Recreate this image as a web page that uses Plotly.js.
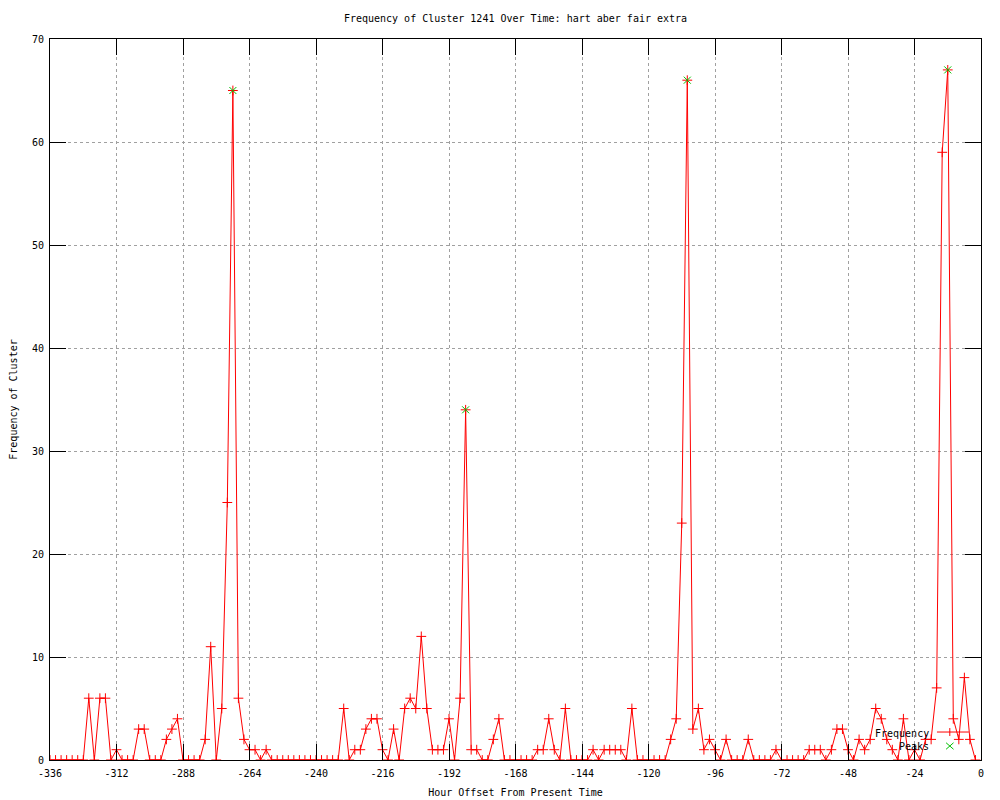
<!DOCTYPE html>
<html>
<head>
<meta charset="utf-8">
<script src="https://cdn.plot.ly/plotly-3.0.1.min.js"></script>
<style>html,body{margin:0;padding:0;background:#fff;}#chart{width:1000px;height:800px;}</style>
</head>
<body>
<div id="chart"></div>
<script>
const hours = [
-336,-334,-332,-330,-328,-326,-324,-322,-320,-318,-316,-314,-312,-310,-308,-306,-304,-302,-300,-298,
-296,-294,-292,-290,-288,-286,-284,-282,-280,-278,-276,-274,-272,-270,-268,-266,-264,-262,-260,-258,
-256,-254,-252,-250,-248,-246,-244,-242,-240,-238,-236,-234,-232,-230,-228,-226,-224,-222,-220,-218,
-216,-214,-212,-210,-208,-206,-204,-202,-200,-198,-196,-194,-192,-190,-188,-186,-184,-182,-180,-178,
-176,-174,-172,-170,-168,-166,-164,-162,-160,-158,-156,-154,-152,-150,-148,-146,-144,-142,-140,-138,
-136,-134,-132,-130,-128,-126,-124,-122,-120,-118,-116,-114,-112,-110,-108,-106,-104,-102,-100,-98,
-96,-94,-92,-90,-88,-86,-84,-82,-80,-78,-76,-74,-72,-70,-68,-66,-64,-62,-60,-58,
-56,-54,-52,-50,-48,-46,-44,-42,-40,-38,-36,-34,-32,-30,-28,-26,-24,-22,-20,-18,
-16,-14,-12,-10,-8,-6,-4,-2
];
const frequency = [
0,0,0,0,0,0,0,6,0,6,6,0,1,0,0,0,3,3,0,0,
0,2,3,4,0,0,0,0,2,11,0,5,25,65,6,2,1,1,0,1,
0,0,0,0,0,0,0,0,0,0,0,0,0,5,0,1,1,3,4,4,
1,0,3,0,5,6,5,12,5,1,1,1,4,0,6,34,1,1,0,0,
2,4,0,0,0,0,0,0,1,1,4,1,0,5,0,0,0,0,1,0,
1,1,1,1,0,5,0,0,0,0,0,0,2,4,23,66,3,5,1,2,
1,0,2,0,0,0,2,0,0,0,0,1,0,0,0,0,0,1,1,1,
0,1,3,3,1,0,2,1,2,5,4,2,1,0,4,0,1,0,2,2,
7,59,67,4,2,8,2,0
];
const peakHours = [-270, -186, -106, -12];
const peakValues = [65, 34, 66, 67];
const xTicks = [-336,-312,-288,-264,-240,-216,-192,-168,-144,-120,-96,-72,-48,-24,0];
const yTicks = [0,10,20,30,40,50,60,70];
const legendLabels = ["Frequency", "Peaks"];

const FONT = "DejaVu Sans Mono, monospace";
const RED = "#ff0000";
const GREEN = "#00c000";

const traces = [
  {
    x: hours, y: frequency, type: "scatter", mode: "lines+markers", name: legendLabels[0],
    line: {color: RED, width: 1},
    marker: {symbol: "cross-thin-open", size: 7, color: RED, line: {color: RED, width: 1}},
    cliponaxis: true, showlegend: false
  },
  {
    x: peakHours, y: peakValues, type: "scatter", mode: "markers", name: legendLabels[1],
    marker: {symbol: "x-thin-open", size: 7, color: GREEN, line: {color: GREEN, width: 1}},
    showlegend: false
  }
];

const axisCommon = {
  showline: true, linecolor: "#000", linewidth: 1, mirror: "ticks",
  ticks: "inside", ticklen: 16, tickcolor: "#000", tickwidth: 1,
  showgrid: true, gridcolor: "#a0a0a0", griddash: "dot", gridwidth: 1,
  zeroline: false, tickfont: {family: FONT, size: 10, color: "#000"}
};

const layout = {
  width: 1000, height: 800,
  paper_bgcolor: "#fff", plot_bgcolor: "#fff",
  margin: {l: 50, r: 19, t: 39, b: 40, pad: 0},
  title: {text: "Frequency of Cluster 1241 Over Time: hart aber fair extra",
          font: {family: FONT, size: 10, color: "#000"},
          x: 0.5, xref: "paper", xanchor: "center", y: 1 - 18/800, yref: "container", yanchor: "middle"},
  xaxis: Object.assign({}, axisCommon, {
    range: [-336, 0], tickmode: "array", tickvals: xTicks, ticktext: xTicks.map(String),
    ticklabelstandoff: 4,
    title: {text: "Hour Offset From Present Time", font: {family: FONT, size: 10, color: "#000"}, standoff: 10}
  }),
  yaxis: Object.assign({}, axisCommon, {
    range: [0, 70], tickmode: "array", tickvals: yTicks, ticktext: yTicks.map(String),
    ticklabelstandoff: 3,
    title: {text: "Frequency of Cluster", font: {family: FONT, size: 10, color: "#000"}, standoff: 12}
  }),
  showlegend: false,
  annotations: [
    {xref: "paper", yref: "paper", x: 0.946, y: 0.0374, xanchor: "right", yanchor: "middle",
     text: legendLabels[0], showarrow: false, font: {family: FONT, size: 10, color: "#000"}},
    {xref: "paper", yref: "paper", x: 0.946, y: 0.0194, xanchor: "right", yanchor: "middle",
     text: legendLabels[1], showarrow: false, font: {family: FONT, size: 10, color: "#000"}}
  ],
  shapes: [
    {type: "line", xref: "paper", yref: "paper", x0: 0.9527, x1: 0.987, y0: 0.0388, y1: 0.0388,
     line: {color: RED, width: 1}},
    {type: "line", xref: "paper", yref: "paper", x0: 0.9665, x1: 0.9665, y0: 0.0388 - 0.0055, y1: 0.0388 + 0.0055,
     line: {color: RED, width: 1}},
    {type: "line", xref: "paper", yref: "paper", x0: 0.9665 - 0.004, x1: 0.9665 + 0.004, y0: 0.0194 - 0.0045, y1: 0.0194 + 0.0045,
     line: {color: GREEN, width: 1}},
    {type: "line", xref: "paper", yref: "paper", x0: 0.9665 - 0.004, x1: 0.9665 + 0.004, y0: 0.0194 + 0.0045, y1: 0.0194 - 0.0045,
     line: {color: GREEN, width: 1}}
  ]
};

Plotly.newPlot("chart", traces, layout, {staticPlot: true, displayModeBar: false});
</script>
</body>
</html>
